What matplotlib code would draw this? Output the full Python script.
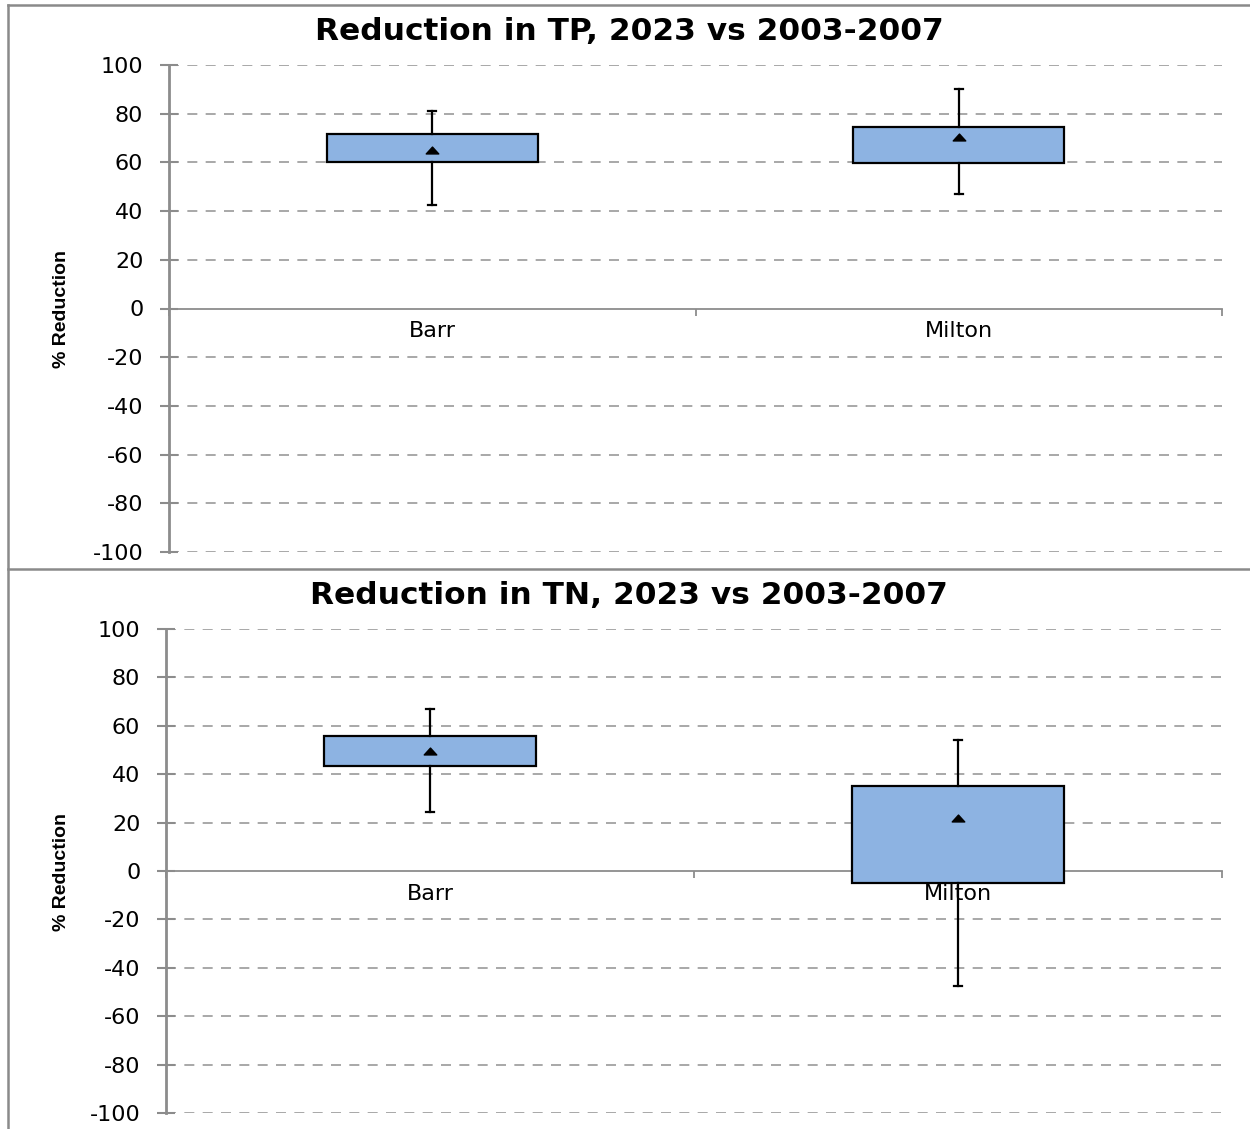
import matplotlib
matplotlib.use("Agg")
import matplotlib.pyplot as plt
from matplotlib.lines import Line2D
from matplotlib.path import Path

# Data: % reduction, 2023 vs 2003-2007
sites = ["Barr", "Milton"]

tp_whislo = [42.5, 47.0]
tp_q1 = [60.2, 59.8]
tp_q3 = [71.7, 74.5]
tp_whishi = [81.1, 90.1]
tp_mean = [65.0, 70.5]

tn_whislo = [24.5, -47.5]
tn_q1 = [43.4, -5.0]
tn_q3 = [55.8, 35.1]
tn_whishi = [67.0, 54.3]
tn_mean = [49.5, 21.8]

y_ticks = [100, 80, 60, 40, 20, 0, -20, -40, -60, -80, -100]

titles = ["Reduction in TP, 2023 vs 2003-2007", "Reduction in TN, 2023 vs 2003-2007"]
ylabel = "% Reduction"

BOX_FILL = "#8DB3E2"
AXIS_GRAY = "#8C8C8C"
GRID_GRAY = "#9A9A9A"

# flat, wide triangle used as the mean marker
MEAN_MARKER = Path([(-1.0, -0.55), (1.0, -0.55), (0.0, 0.55), (-1.0, -0.55)],
                   [Path.MOVETO, Path.LINETO, Path.LINETO, Path.CLOSEPOLY])

W, H = 1250, 1129
fig = plt.figure(figsize=(W / 100, H / 100), dpi=100)


def draw_panel(rect, whislo, q1, q3, whishi, mean, title, title_y, ylabel_y):
    ax = fig.add_axes(rect)
    stats = []
    for i, name in enumerate(sites):
        stats.append(dict(label=name, whislo=whislo[i], q1=q1[i], med=mean[i],
                          q3=q3[i], whishi=whishi[i], mean=mean[i], fliers=[]))
    ax.bxp(stats, positions=[0.5, 1.5], widths=0.4, capwidths=0.016,
           patch_artist=True, showmeans=True, showfliers=False,
           boxprops=dict(facecolor=BOX_FILL, edgecolor="black", linewidth=1.6),
           whiskerprops=dict(color="black", linewidth=1.6),
           capprops=dict(color="black", linewidth=1.6),
           medianprops=dict(visible=False),
           meanprops=dict(marker=MEAN_MARKER, markerfacecolor="black",
                          markeredgecolor="black", markersize=9),
           zorder=3, manage_ticks=False)

    ax.set_xlim(0, 2)
    ax.set_ylim(-100, 100)
    ax.set_yticks(y_ticks)
    ax.set_yticklabels([str(t) for t in y_ticks], fontsize=16,
                       family="DejaVu Sans", color="black")

    # category axis sits on the zero line
    ax.spines["bottom"].set_position(("data", 0))
    ax.spines["bottom"].set_color(AXIS_GRAY)
    ax.spines["bottom"].set_linewidth(1.3)
    ax.spines["left"].set_color(AXIS_GRAY)
    ax.spines["left"].set_linewidth(2.0)
    ax.spines["top"].set_visible(False)
    ax.spines["right"].set_visible(False)

    ax.set_xticks([0, 1, 2])
    ax.set_xticklabels(["", "", ""])
    ax.set_xticks([0.5, 1.5], minor=True)
    ax.set_xticklabels(sites, minor=True, fontsize=16, family="DejaVu Sans",
                       color="black")
    ax.tick_params(axis="x", which="major", direction="out", length=5,
                   width=1.3, color=AXIS_GRAY)
    ax.tick_params(axis="x", which="minor", length=0, pad=9)
    ax.tick_params(axis="y", direction="inout", length=13, width=1.5,
                   color=AXIS_GRAY, pad=12)

    ax.yaxis.grid(True, color=GRID_GRAY, linewidth=1.2, linestyle=(0, (6, 5)),
                  zorder=0)
    ax.set_axisbelow(True)
    for gl, t in zip(ax.yaxis.get_gridlines(), y_ticks):
        if t == 0:
            gl.set_visible(False)

    fig.text(629 / W, 1 - title_y / H, title, ha="center", va="center",
             fontsize=22.5, fontweight="bold", family="DejaVu Sans")
    fig.text(61 / W, 1 - ylabel_y / H, ylabel, rotation=90, ha="center",
             va="center", fontsize=14, fontweight="bold",
             family=["Liberation Sans", "DejaVu Sans"])
    return ax


draw_panel([169 / W, 1 - 552 / H, 1053 / W, 487 / H],
           tp_whislo, tp_q1, tp_q3, tp_whishi, tp_mean, titles[0], 31, 309)
draw_panel([166 / W, 1 - 1113 / H, 1056 / W, 484 / H],
           tn_whislo, tn_q1, tn_q3, tn_whishi, tn_mean, titles[1], 596, 872)

# panel frame lines
frame_kw = dict(color="#8A8A8A", linewidth=1.8, transform=fig.transFigure)
fig.add_artist(Line2D([8 / W, 8 / W], [1 - 5 / H, 0], **frame_kw))
fig.add_artist(Line2D([8 / W, 1], [1 - 5 / H, 1 - 5 / H], **frame_kw))
fig.add_artist(Line2D([8 / W, 1], [1 - 569 / H, 1 - 569 / H], **frame_kw))

fig.savefig("out.png", dpi=100, facecolor="white")
